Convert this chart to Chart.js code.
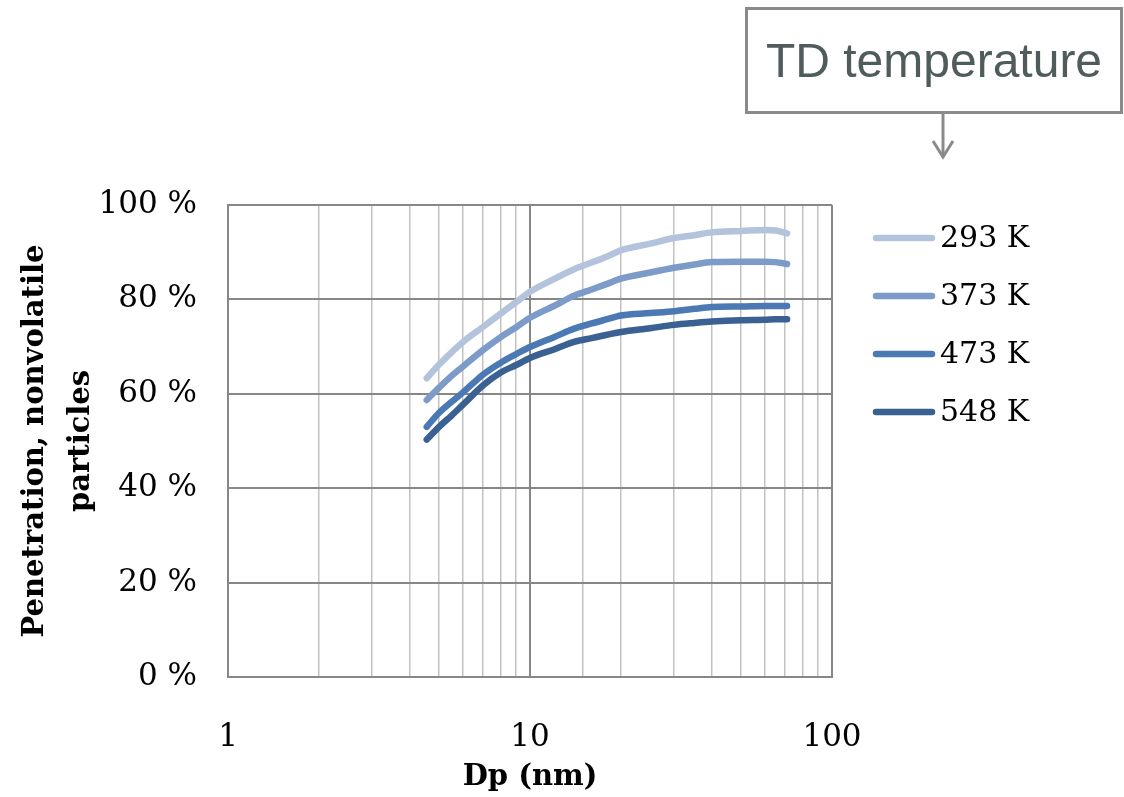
<!DOCTYPE html>
<html>
<head>
<meta charset="utf-8">
<script src="https://cdn.jsdelivr.net/npm/chart.js@4.4.1/dist/chart.umd.min.js"></script>
<style>
body{margin:0;background:#fff;}
#wrap{position:relative;width:1124px;height:797px;}
#tdbox{position:absolute;left:745px;top:7px;width:372px;height:101px;border:3px solid #8a8a8a;
	display:flex;align-items:center;justify-content:center;
	font-family:"Liberation Sans",Arial,sans-serif;font-size:48px;color:#505b5b;}
#arrow{position:absolute;left:930px;top:113px;}
</style>
</head>
<body>
<div id="wrap">
	<canvas id="chart" width="1124" height="797"></canvas>
	<div id="tdbox">TD temperature</div>
	<svg id="arrow" width="26" height="48">
		<line x1="13" y1="0" x2="13" y2="44" stroke="#8a8a8a" stroke-width="3"/>
		<polyline points="3,28 13,44 23,28" fill="none" stroke="#8a8a8a" stroke-width="3"/>
	</svg>
</div>
<script>
// particle diameter (nm)
const dp = [4.55, 5, 5.5, 6, 7, 8, 9, 10, 12, 14, 16, 18, 20, 25, 30, 35, 40, 50, 60, 65, 71];
// penetration (%) per TD temperature
const pen293 = [63.3, 66.2, 68.8, 71.0, 74.2, 77.0, 79.4, 81.6, 84.3, 86.4, 87.8, 89.1, 90.4, 91.8, 93.0, 93.6, 94.2, 94.5, 94.7, 94.6, 94.0];
const pen373 = [58.7, 61.3, 63.8, 65.8, 69.3, 72.0, 74.1, 76.1, 78.6, 80.8, 82.1, 83.3, 84.4, 85.7, 86.7, 87.4, 87.9, 88.0, 88.0, 87.9, 87.5];
const pen473 = [53.0, 56.0, 58.3, 60.3, 64.1, 66.6, 68.4, 69.9, 72.0, 73.8, 74.9, 75.8, 76.6, 77.1, 77.5, 78.0, 78.4, 78.5, 78.6, 78.6, 78.6];
const pen548 = [50.3, 53.0, 55.4, 57.7, 61.8, 64.5, 66.1, 67.6, 69.4, 71.0, 71.8, 72.5, 73.1, 73.9, 74.6, 75.0, 75.3, 75.6, 75.7, 75.8, 75.8];
const seriesLabels = ["293 K", "373 K", "473 K", "548 K"];
const seriesColors = ["#b3c3dc", "#7c9bc8", "#4a79b4", "#3a6192"];

const serif = "'DejaVu Serif', 'Liberation Serif', serif";

function toPoints(ys){
	return ys.map((y, i) => ({x: dp[i], y: y}));
}

// legend drawn at right of plot, one line sample + label per dataset
const sideLegend = {
	id: "sideLegend",
	afterDraw(chart){
		const ctx = chart.ctx;
		const area = chart.chartArea;
		ctx.save();
		ctx.font = "30px " + serif;
		ctx.textBaseline = "middle";
		ctx.fillStyle = "#000";
		chart.data.datasets.forEach((ds, i) => {
			let y = area.top + 33 + i * 58;
			ctx.strokeStyle = ds.borderColor;
			ctx.lineWidth = 6.5;
			ctx.lineCap = "round";
			ctx.beginPath();
			ctx.moveTo(area.right + 44, y);
			ctx.lineTo(area.right + 100, y);
			ctx.stroke();
			ctx.fillText(ds.label, area.right + 108, y + 1);
		});
		ctx.restore();
	}
};

let graph = document.getElementById("chart").getContext("2d");
let myChart = new Chart(graph, {
	type: "line",
	data:{
		datasets:[pen293, pen373, pen473, pen548].map((arr, i) => ({
			label: seriesLabels[i],
			data: toPoints(arr),
			borderColor: seriesColors[i],
			backgroundColor: seriesColors[i],
			borderWidth: 6.5,
			borderCapStyle: "round",
			pointRadius: 0,
			cubicInterpolationMode: "monotone",
			fill: false
		}))
	},
	options:{
		responsive: false,
		animation: false,
		layout:{padding:{top: 205, right: 292, left: 0, bottom: 0}},
		plugins:{
			legend:{display: false},
			tooltip:{enabled: false}
		},
		scales:{
			x:{
				type: "logarithmic",
				min: 1,
				max: 100,
				afterFit(scale){ scale.height = 120; },
				grid:{
					drawTicks: false,
					color: c => Number.isInteger(Math.log10(c.tick.value)) ? "#878787" : "#c2c2c2",
					lineWidth: c => Number.isInteger(Math.log10(c.tick.value)) ? 2 : 1.5
				},
				border:{display: true, color: "#878787", width: 2},
				ticks:{
					autoSkip: false,
					maxRotation: 0,
					padding: 42,
					color: "#000",
					font:{family: serif, size: 31},
					callback: v => Number.isInteger(Math.log10(v)) ? String(v) : ""
				},
				title:{
					display: true,
					text: "Dp (nm)",
					color: "#000",
					padding:{top: 0, bottom: 2},
					font:{family: serif, size: 29, weight: "bold"}
				}
			},
			y:{
				min: 0,
				max: 100,
				afterFit(scale){ scale.width = 228; },
				grid:{drawTicks: false, color: "#878787", lineWidth: 2},
				border:{display: true, color: "#878787", width: 2},
				ticks:{
					stepSize: 20,
					padding: 31,
					color: "#000",
					font:{family: serif, size: 31},
					callback: v => v + " %"
				},
				title:{
					display: true,
					text: ["Penetration, nonvolatile", "particles"],
					color: "#000",
					padding:{top: 12, bottom: 0},
					font:{family: serif, size: 29, weight: "bold", lineHeight: 1.59}
				}
			}
		}
	},
	plugins: [sideLegend]
});
</script>
</body>
</html>
